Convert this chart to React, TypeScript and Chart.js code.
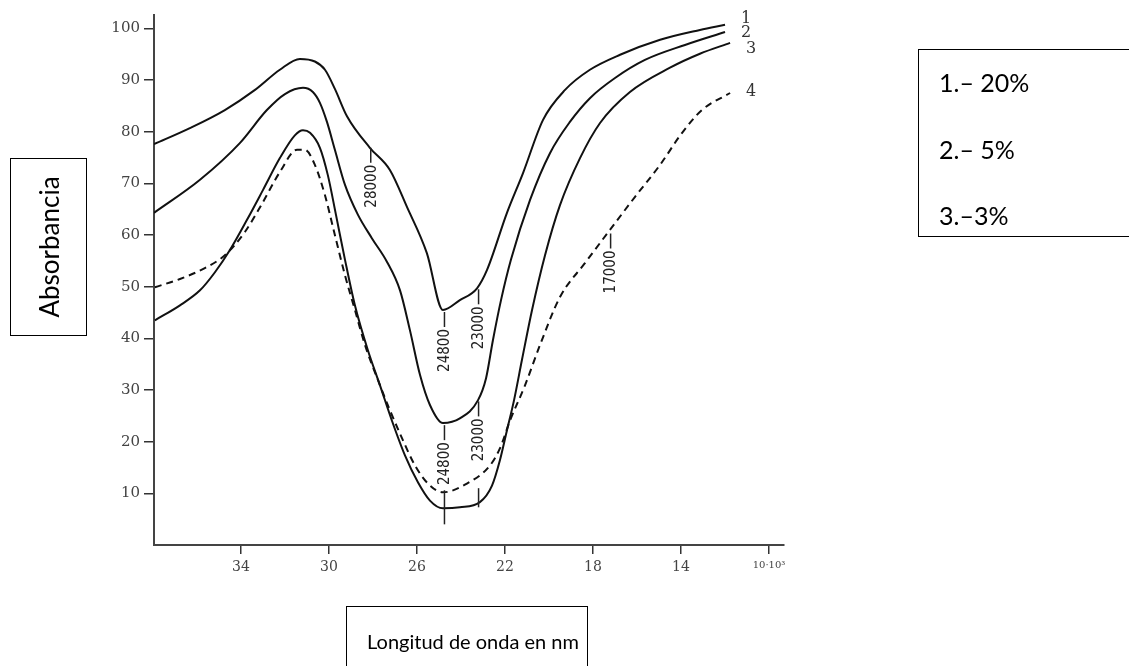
import React, { useEffect, useRef } from "react";
import { Chart, registerables } from "chart.js";

Chart.register(...registerables);

// Axis ticks
const xTickValues = [34, 30, 26, 22, 18, 14, 10];
const xTickLabels = ["34", "30", "26", "22", "18", "14", "10·10³"];
const yTickValues = [10, 20, 30, 40, 50, 60, 70, 80, 90, 100];

// Curve 1 (20%)
const curve1X = [37.95, 36.32, 34.73, 33.36, 32.23, 31.32, 30.64, 30.18, 29.73, 29.18, 28.14, 27.23, 26.45, 25.55, 24.82, 24.05, 23.27, 22.82, 21.91, 21.18, 20.27, 19.27, 18.14, 16.77, 14.95, 13.14, 12.0];
const curve1Y = [77.6, 80.7, 84.2, 88.1, 92.0, 94.1, 93.6, 92.0, 88.3, 83.0, 76.9, 72.6, 65.4, 56.5, 45.5, 47.4, 49.7, 53.2, 64.3, 72.0, 82.3, 88.1, 92.0, 94.9, 97.8, 99.7, 100.7];

// Curve 2 (5%)
const curve2X = [37.95, 35.86, 34.05, 32.82, 32.0, 31.18, 30.73, 30.41, 30.09, 29.73, 29.27, 28.68, 28.05, 27.36, 26.77, 26.32, 25.86, 25.41, 24.82, 24.05, 23.23, 22.86, 22.55, 22.18, 21.73, 20.86, 19.95, 19.05, 18.14, 17.0, 15.64, 13.82, 12.0];
const curve2Y = [64.3, 70.7, 77.8, 84.2, 87.3, 88.5, 87.7, 85.6, 81.9, 76.5, 69.7, 63.9, 59.4, 54.8, 49.3, 41.6, 32.9, 27.1, 23.6, 24.5, 28.0, 32.3, 39.6, 47.4, 55.2, 66.8, 75.9, 81.9, 86.5, 90.4, 93.9, 96.8, 99.3];

// Curve 3 (3%)
const curve3X = [37.91, 36.77, 35.86, 35.18, 34.5, 33.73, 33.0, 32.23, 31.55, 31.18, 30.86, 30.41, 30.05, 29.68, 29.27, 28.82, 28.23, 27.68, 27.14, 26.55, 25.95, 25.41, 24.82, 24.05, 23.14, 22.59, 22.23, 21.91, 21.59, 21.23, 20.77, 20.18, 19.5, 18.59, 17.68, 16.32, 14.5, 13.14, 11.77];
const curve3Y = [43.5, 46.4, 49.3, 52.8, 57.1, 62.9, 68.7, 74.9, 79.3, 80.3, 79.8, 76.9, 71.6, 63.9, 55.2, 46.4, 37.7, 30.9, 24.1, 17.4, 12.1, 8.6, 7.1, 7.3, 8.3, 11.5, 16.4, 22.2, 28.0, 35.8, 45.5, 56.1, 65.8, 74.9, 81.7, 87.7, 92.4, 95.1, 97.2];

// Curve 4 (dashed)
const curve4X = [37.91, 36.77, 35.64, 34.73, 33.82, 33.05, 32.23, 31.45, 31.09, 30.64, 30.18, 29.73, 29.27, 28.82, 28.36, 27.77, 27.23, 26.64, 26.09, 25.5, 24.82, 23.73, 22.68, 22.23, 21.77, 21.09, 20.41, 19.5, 18.36, 17.23, 16.09, 14.95, 13.95, 13.05, 11.77];
const curve4Y = [49.9, 51.5, 53.6, 56.1, 60.6, 66.0, 72.2, 76.5, 76.5, 73.6, 67.7, 60.0, 52.2, 45.5, 38.7, 31.9, 26.1, 20.3, 15.4, 11.9, 10.2, 11.9, 15.4, 18.7, 24.1, 30.9, 38.7, 48.0, 54.6, 61.0, 67.4, 73.6, 79.8, 84.2, 87.5];

const curveNames = ["1", "2", "3", "4"];
const legendItems = ["1.– 20%", "2.– 5%", "3.–3%"];

// Wavenumber markers on the curves
const markerLabels = ["28000", "24800", "23000", "24800", "23000", "17000"];
const markerX = [28.1, 24.75, 23.2, 24.75, 23.2, 17.2];
const markerY = [76.9, 45.1, 49.5, 23.2, 27.8, 60.3];
const lowerTickX = [24.75, 23.2];
const lowerTickFrom = [10.6, 11.0];
const lowerTickTo = [4.0, 7.3];

const toPoints = (xs: number[], ys: number[]) => xs.map((x, i) => ({ x, y: ys[i] }));

const W = 1129;
const H = 666;

const annotationPlugin = {
  id: "spectrumAnnotations",
  afterDatasetsDraw(chart: any) {
    const { ctx } = chart;
    const xs = chart.scales.x;
    const ys = chart.scales.y;
    ctx.save();
    ctx.strokeStyle = "#222";
    ctx.fillStyle = "#222";
    ctx.lineWidth = 1.5;
    ctx.font = "15px 'Liberation Sans Narrow', 'DejaVu Sans Condensed', sans-serif";
    markerLabels.forEach((lab, i) => {
      const px = xs.getPixelForValue(markerX[i]);
      const py = ys.getPixelForValue(markerY[i]);
      ctx.beginPath();
      ctx.moveTo(px, py);
      ctx.lineTo(px, py + 15);
      ctx.stroke();
      const w = ctx.measureText(lab).width;
      ctx.save();
      ctx.translate(px, py + 17 + w);
      ctx.rotate(-Math.PI / 2);
      ctx.textAlign = "left";
      ctx.textBaseline = "middle";
      ctx.fillText(lab, 0, 1);
      ctx.restore();
    });
    lowerTickX.forEach((v, i) => {
      const px = xs.getPixelForValue(v);
      ctx.beginPath();
      ctx.moveTo(px, ys.getPixelForValue(lowerTickFrom[i]));
      ctx.lineTo(px, ys.getPixelForValue(lowerTickTo[i]));
      ctx.stroke();
    });
    ctx.font = "16px 'DejaVu Serif', serif";
    ctx.fillStyle = "#333";
    ctx.textAlign = "left";
    ctx.textBaseline = "middle";
    const offs = [-6, 1, 6, -1];
    chart.data.datasets.forEach((_ds: any, i: number) => {
      const meta = chart.getDatasetMeta(i);
      const last = meta.data[meta.data.length - 1];
      ctx.fillText(curveNames[i], last.x + 16, last.y + offs[i]);
    });
    ctx.restore();
  },
};

export default function App() {
  const ref = useRef<HTMLCanvasElement | null>(null);

  useEffect(() => {
    if (!ref.current) return;
    const yW = 60;
    const xH = 40;
    const line = (xs: number[], ys: number[], dashed: boolean) => ({
      data: toPoints(xs, ys),
      borderColor: "#111",
      borderWidth: 2,
      borderDash: dashed ? [7, 5] : [],
      pointRadius: 0,
      fill: false,
      cubicInterpolationMode: "monotone" as const,
    });
    const chart = new Chart(ref.current, {
      type: "line",
      data: {
        datasets: [
          line(curve1X, curve1Y, false),
          line(curve2X, curve2Y, false),
          line(curve3X, curve3Y, false),
          line(curve4X, curve4Y, true),
        ],
      },
      options: {
        animation: false,
        responsive: false,
        devicePixelRatio: 1,
        layout: { padding: { left: 154 - yW, right: W - 784, top: 15, bottom: H - 545 - xH } },
        plugins: { legend: { display: false }, tooltip: { enabled: false } },
        scales: {
          x: {
            type: "linear",
            reverse: true,
            min: 9.32,
            max: 37.95,
            afterFit: (s: any) => { s.height = xH; },
            afterBuildTicks: (s: any) => { s.ticks = xTickValues.map((v) => ({ value: v })); },
            grid: { display: true, drawOnChartArea: false, drawTicks: true, tickLength: 9, color: "#333", lineWidth: 1.5 },
            border: { display: true, color: "#444", width: 2 },
            ticks: {
              color: "#444",
              padding: 5,
              maxRotation: 0,
              autoSkip: false,
              font: (c: any) => (c.index === 6 ? { family: "'DejaVu Serif', serif", size: 10 } : { family: "'DejaVu Serif', serif", size: 14 }),
              callback: (_v: any, i: number) => xTickLabels[i],
            },
          },
          y: {
            type: "linear",
            min: 0,
            max: 102.6,
            afterFit: (s: any) => { s.width = yW; },
            afterBuildTicks: (s: any) => { s.ticks = yTickValues.map((v) => ({ value: v })); },
            grid: { display: true, drawOnChartArea: false, drawTicks: true, tickLength: 10, color: "#333", lineWidth: 1.5 },
            border: { display: true, color: "#444", width: 2 },
            ticks: {
              color: "#444",
              padding: 4,
              autoSkip: false,
              font: { family: "'DejaVu Serif', serif", size: 15 },
              callback: (v: any) => String(v),
            },
          },
        },
      },
      plugins: [annotationPlugin],
    });
    return () => chart.destroy();
  }, []);

  const boxFont = "Lato, 'Open Sans', sans-serif";

  return (
    <div style={{ position: "absolute", left: 0, top: 0, width: W, height: H, overflow: "hidden", background: "#fff" }}>
      <canvas ref={ref} width={W} height={H} style={{ position: "absolute", left: 0, top: 0, width: W, height: H }} />
      <div
        style={{
          position: "absolute", left: 10, top: 158, width: 77, height: 178, boxSizing: "border-box",
          border: "1.5px solid #000", display: "flex", alignItems: "center", justifyContent: "center",
        }}
      >
        <div style={{ transform: "rotate(-90deg)", whiteSpace: "nowrap", fontFamily: boxFont, fontSize: 26, color: "#000" }}>Absorbancia</div>
      </div>
      <div
        style={{
          position: "absolute", left: 918, top: 49, width: 220, height: 188, boxSizing: "border-box",
          border: "1.5px solid #000", fontFamily: boxFont, fontSize: 25, color: "#000",
        }}
      >
        {legendItems.map((t, i) => (
          <div key={i} style={{ position: "absolute", left: 20, top: 17 + i * 66.5, lineHeight: "30px", whiteSpace: "nowrap" }}>{t}</div>
        ))}
      </div>
      <div
        style={{
          position: "absolute", left: 346, top: 606, width: 242, height: 80, boxSizing: "border-box",
          border: "1.5px solid #000", fontFamily: boxFont, fontSize: 20, color: "#000",
        }}
      >
        <div style={{ position: "absolute", left: 20, top: 20, lineHeight: "28px", whiteSpace: "nowrap" }}>Longitud de onda en nm</div>
      </div>
    </div>
  );
}
